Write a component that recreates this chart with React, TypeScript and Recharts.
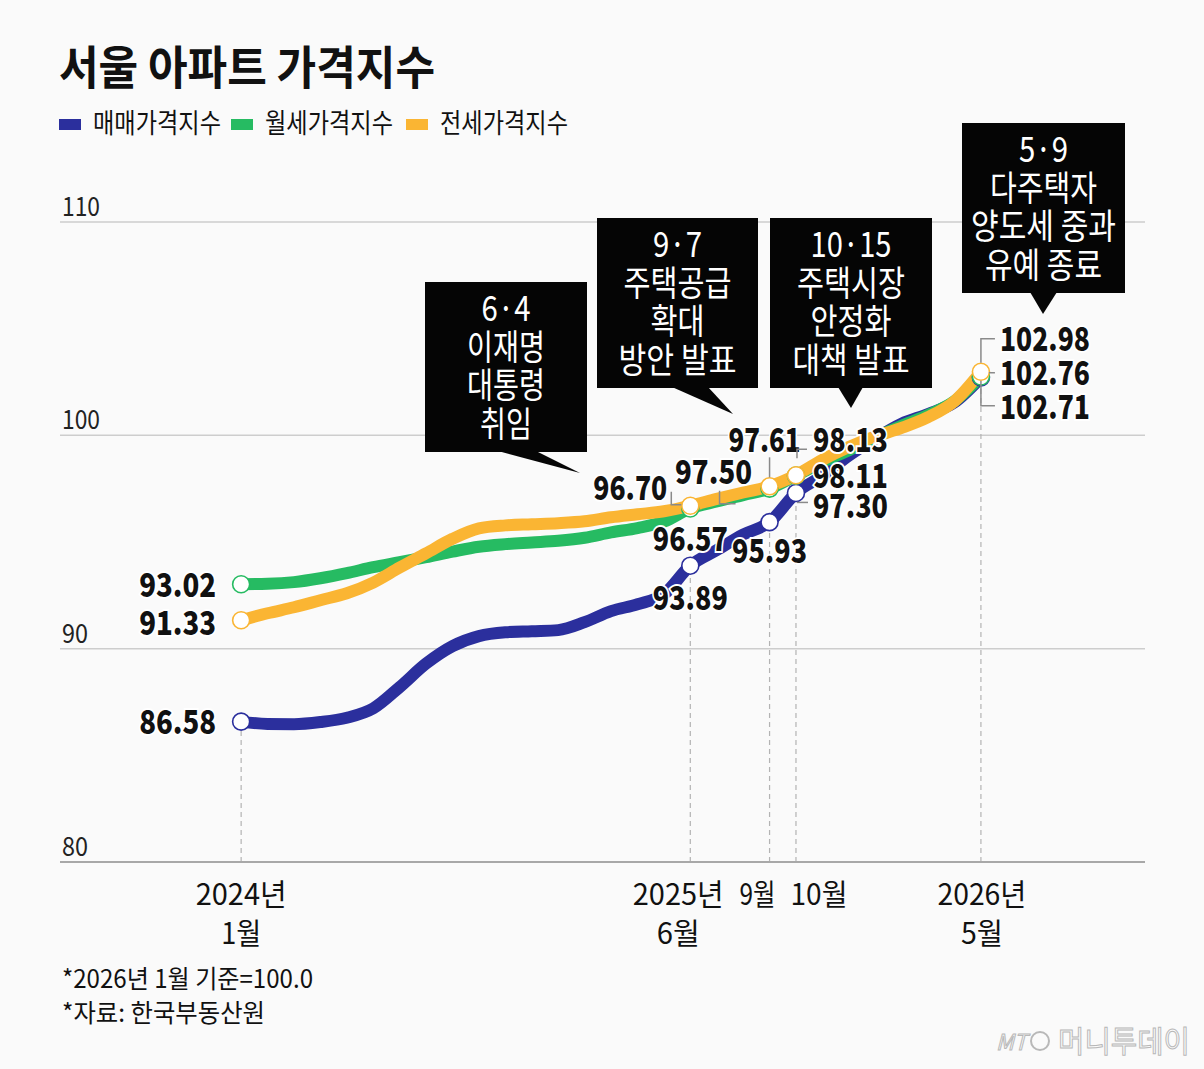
import React from "react";
import { CartesianGrid, Line, LineChart, ReferenceDot, ReferenceLine, XAxis, YAxis } from "recharts";

// monthly index, 2024-01 .. 2026-05 (2026-01 = 100)
const MONTHS = [
  "2024-01", "2024-02", "2024-03", "2024-04", "2024-05", "2024-06", "2024-07", "2024-08", "2024-09", "2024-10",
  "2024-11", "2024-12", "2025-01", "2025-02", "2025-03", "2025-04", "2025-05", "2025-06", "2025-07", "2025-08",
  "2025-09", "2025-10", "2025-11", "2025-12", "2026-01", "2026-02", "2026-03", "2026-04", "2026-05",
];
const SALE = [
  86.58, 86.47, 86.46, 86.56, 86.76, 87.2, 88.2, 89.3, 90.12, 90.59,
  90.77, 90.82, 90.87, 91.24, 91.76, 92.08, 92.55, 93.89, 94.62, 95.35,
  95.93, 97.3, 98.1, 99.05, 99.85, 100.55, 101.0, 101.55, 102.71,
];
const RENT = [
  93.02, 93.04, 93.12, 93.3, 93.54, 93.82, 94.05, 94.29, 94.55, 94.78,
  94.9, 94.98, 95.06, 95.2, 95.45, 95.65, 95.95, 96.57, 96.9, 97.2,
  97.5, 98.11, 98.75, 99.3, 99.9, 100.45, 100.95, 101.6, 102.76,
];
const JEONSE = [
  91.33, 91.66, 91.94, 92.27, 92.6, 93.1, 93.8, 94.47, 95.15, 95.64,
  95.78, 95.83, 95.88, 95.97, 96.16, 96.3, 96.44, 96.7, 97.02, 97.32,
  97.61, 98.13, 98.85, 99.45, 99.95, 100.35, 100.85, 101.6, 102.98,
];
const MARKERS = [0, 17, 20, 21, 28];
const X_TICKS = [0, 17, 20, 21, 28];
const X_TICK_TEXT: Record<number, string[]> = {
  0: ["2024년", "1월"],
  17: ["2025년", "6월"],
  20: ["9월"],
  21: ["10월"],
  28: ["2026년", "5월"],
};
const Y_TICKS = [80, 90, 100, 110];

const SERIES = [
  { key: "sale", name: "매매가격지수", values: SALE, color: "#2b2f9d" },
  { key: "rent", name: "월세가격지수", values: RENT, color: "#26bb62" },
  { key: "jeonse", name: "전세가격지수", values: JEONSE, color: "#fab533" },
];

const data = MONTHS.map((month, i) => ({ i, month, sale: SALE[i], rent: RENT[i], jeonse: JEONSE[i] }));

const FONT = "'Noto Sans CJK KR', 'Noto Sans', sans-serif";

// value label placement (offsets from the point)
const VALUE_LABELS = [
  { key: "rent", i: 0, dx: -25, dy: 13, anchor: "end", w: 77 },
  { key: "jeonse", i: 0, dx: -25, dy: 15, anchor: "end", w: 77 },
  { key: "sale", i: 0, dx: -25, dy: 12, anchor: "end", w: 77 },
  { key: "jeonse", i: 17, dx: -23, dy: -6, anchor: "end", w: 74, leader: "M-19 -14 V-1 H-9" },
  { key: "rent", i: 17, dx: 0, dy: 42, anchor: "middle", w: 75 },
  { key: "sale", i: 17, dx: 0, dy: 44, anchor: "middle", w: 75 },
  { key: "rent", i: 20, dx: -56, dy: -5, anchor: "middle", w: 77, leader: "M-50 2 V15 H-34" },
  { key: "jeonse", i: 20, dx: -5, dy: -34, anchor: "middle", w: 72, leader: "M0 -29 V-9" },
  { key: "sale", i: 20, dx: 0, dy: 41, anchor: "middle", w: 75 },
  { key: "jeonse", i: 21, dx: 17, dy: -23, anchor: "start", w: 75, leader: "M1 -17 V-26 H11" },
  { key: "rent", i: 21, dx: 17, dy: 12, anchor: "start", w: 75 },
  { key: "sale", i: 21, dx: 17, dy: 25, anchor: "start", w: 75, leader: "M1 9.5 H12" },
  { key: "jeonse", i: 28, dx: 19, dy: -21, anchor: "start", w: 90, leader: "M14 -33 H0 V-9 M0 9 V34 H14 M8 1 H14" },
  { key: "rent", i: 28, dx: 19, dy: 9, anchor: "start", w: 90 },
  { key: "sale", i: 28, dx: 19, dy: 41, anchor: "start", w: 90 },
];

const CALLOUTS = [
  { x: 425, y: 282, w: 162, h: 170, lines: ["6·4", "이재명", "대통령", "취임"], lens: [49, 78, 78, 52], tail: "M498 451 L536 451 L580 473 Z" },
  { x: 597, y: 218, w: 161, h: 170, lines: ["9·7", "주택공급", "확대", "방안 발표"], lens: [49, 108, 54, 118], tail: "M672 387 L708 387 L733 414 Z" },
  { x: 770, y: 218, w: 162, h: 170, lines: ["10·15", "주택시장", "안정화", "대책 발표"], lens: [81, 108, 81, 117], tail: "M838 387 L863 387 L851 408 Z" },
  { x: 962, y: 123, w: 163, h: 170, lines: ["5·9", "다주택자", "양도세 중과", "유예 종료"], lens: [49, 107, 145, 117], tail: "M1030 292 L1057 292 L1043 314 Z" },
];

function XTick(props: any) {
  const { x, payload } = props;
  const idx = payload.value as number;
  const shift: Record<number, number> = { 0: 0, 17: -12, 20: -12, 21: 23, 28: 1 };
  const widths: Record<string, number> = { "2024년": 91, "2025년": 91, "2026년": 89, "1월": 40, "6월": 43, "9월": 36, "10월": 57, "5월": 42 };
  const lines = X_TICK_TEXT[idx] || [];
  return (
    <g>
      {lines.map((t, k) => (
        <text key={t} x={x + shift[idx]} y={862 + 43 + k * 39} textAnchor="middle" fontFamily={FONT} fontSize={30}
          fill="#111" textLength={widths[t]} lengthAdjust="spacingAndGlyphs">{t}</text>
      ))}
    </g>
  );
}

function YTick(props: any) {
  const { y, payload } = props;
  const t = String(payload.value);
  return (
    <text x={62} y={y - 6} fontFamily={FONT} fontSize={27} fill="#222" textLength={t.length === 3 ? 38 : 26}
      lengthAdjust="spacingAndGlyphs">{t}</text>
  );
}

function markerDot(color: string) {
  return (props: any) => {
    const { cx, cy, index } = props;
    if (!MARKERS.includes(index)) return <g key={`d${index}`} />;
    return <circle key={`d${index}`} cx={cx} cy={cy} r={8.5} fill="#fff" stroke={color} strokeWidth={1.6} />;
  };
}

function valueLabel(cfg: any, value: number) {
  return (props: any) => {
    const { cx, cy } = props;
    return (
      <g>
        {cfg.leader && <path d={cfg.leader} transform={`translate(${cx},${cy})`} fill="none" stroke="#8a8a8a" strokeWidth={1.5} />}
        <text x={cx + cfg.dx} y={cy + cfg.dy} textAnchor={cfg.anchor} fontFamily={FONT} fontWeight={900} fontSize={33}
          fill="#111" stroke="#fff" strokeWidth={4} paintOrder="stroke" textLength={cfg.w} lengthAdjust="spacingAndGlyphs">
          {value.toFixed(2)}
        </text>
      </g>
    );
  };
}

export default function App() {
  const byKey: Record<string, number[]> = { sale: SALE, rent: RENT, jeonse: JEONSE };
  return (
    <div style={{ position: "absolute", left: 0, top: 0, width: 1204, height: 1069, background: "#fafafa", overflow: "hidden" }}>
      <LineChart width={1204} height={1069} data={data} margin={{ top: 222, right: 59, bottom: 157, left: 59 }}>
        <CartesianGrid vertical={false} stroke="#cdcdcd" strokeWidth={1.5} />
        <XAxis type="number" dataKey="i" domain={[-6.856, 34.21]} ticks={X_TICKS} interval={0} height={50}
          tickLine={false} axisLine={{ stroke: "#a8a8a8", strokeWidth: 2 }} tick={<XTick />} />
        <YAxis type="number" domain={[80, 110]} ticks={Y_TICKS} width={1} axisLine={false} tickLine={false} tick={<YTick />} />
        {MARKERS.map((i) => (
          <ReferenceLine key={`v${i}`} segment={[{ x: i, y: 80 }, { x: i, y: Math.min(SALE[i], RENT[i], JEONSE[i]) }]}
            stroke="#b3b3b3" strokeWidth={1.2} strokeDasharray="5 4" />
        ))}
        {SERIES.map((s) => (
          <Line key={s.key} type="monotone" dataKey={s.key} name={s.name} stroke={s.color} strokeWidth={12}
            strokeLinecap="round" strokeLinejoin="round" dot={markerDot(s.color)} activeDot={false} isAnimationActive={false} />
        ))}
        {VALUE_LABELS.map((cfg) => {
          const v = byKey[cfg.key][cfg.i];
          return <ReferenceDot key={`${cfg.key}${cfg.i}`} x={cfg.i} y={v} r={0} ifOverflow="visible" shape={valueLabel(cfg, v)} />;
        })}
      </LineChart>

      <svg width={1204} height={1069} style={{ position: "absolute", left: 0, top: 0, pointerEvents: "none" }}>
        <text x={59} y={84} fontFamily={FONT} fontWeight={700} fontSize={46} fill="#111" textLength={376} lengthAdjust="spacingAndGlyphs">
          서울 아파트 가격지수
        </text>
        {SERIES.map((s, k) => {
          const lx = [59, 231, 406][k];
          return (
            <g key={s.key}>
              <rect x={lx} y={119} width={22} height={11} fill={s.color} />
              <text x={lx + 34} y={133} fontFamily={FONT} fontSize={27} fill="#111" textLength={128} lengthAdjust="spacingAndGlyphs">{s.name}</text>
            </g>
          );
        })}
        {CALLOUTS.map((c, k) => (
          <g key={k}>
            <rect x={c.x} y={c.y} width={c.w} height={c.h} fill="#050505" />
            <path d={c.tail} fill="#050505" />
            {c.lines.map((t, j) => (
              <text key={j} x={c.x + c.w / 2} y={c.y + 39 + j * 38.5} textAnchor="middle" fontFamily={FONT} fontSize={35}
                fill="#fff" textLength={c.lens[j]} lengthAdjust="spacingAndGlyphs">{t}</text>
            ))}
          </g>
        ))}
        <text x={62} y={988} fontFamily={FONT} fontSize={25} fill="#111" textLength={251} lengthAdjust="spacingAndGlyphs">*2026년 1월 기준=100.0</text>
        <text x={62} y={1022} fontFamily={FONT} fontSize={25} fill="#111" textLength={203} lengthAdjust="spacingAndGlyphs">*자료: 한국부동산원</text>
        <text x={996} y={1050} fontFamily={FONT} fontSize={22} fontStyle="italic" fill="none" stroke="#b8b8b8" strokeWidth={1}>MT</text>
        <circle cx={1040} cy={1041} r={9} fill="none" stroke="#b8b8b8" strokeWidth={2} />
        <text x={1058} y={1052} fontFamily={FONT} fontSize={30} fill="none" stroke="#b8b8b8" strokeWidth={1}
          textLength={132} lengthAdjust="spacingAndGlyphs">머니투데이</text>
      </svg>
    </div>
  );
}
